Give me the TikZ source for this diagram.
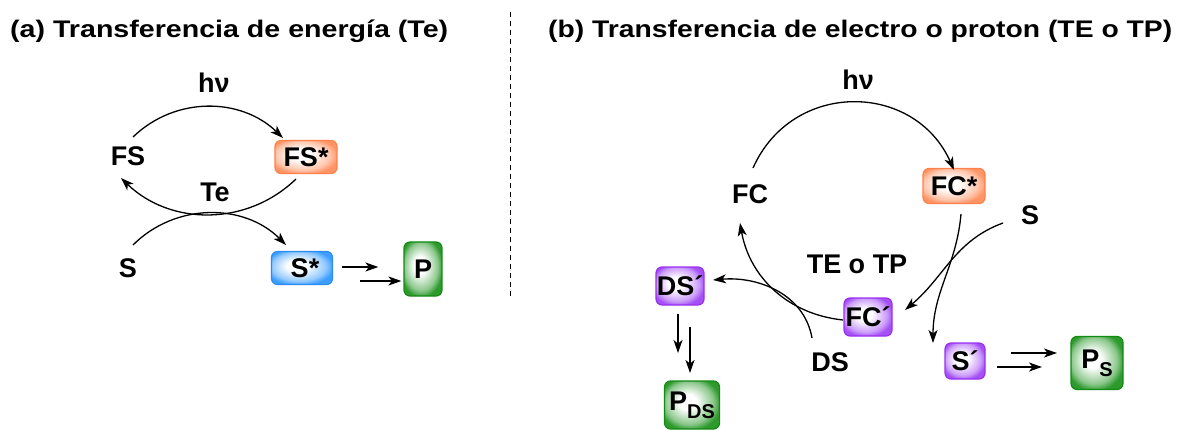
\documentclass[tikz,border=0pt]{standalone}
\usepackage{fontspec}
\setmainfont{Liberation Sans}
\usepackage{graphicx}
\usetikzlibrary{arrows.meta}
\definecolor{orgD}{HTML}{FF8048}
\definecolor{orgL}{HTML}{FF9566}
\definecolor{bluD}{HTML}{2B8CF0}
\definecolor{bluL}{HTML}{3D9EFF}
\definecolor{grnD}{HTML}{138A13}
\definecolor{grnL}{HTML}{2E9A2E}
\definecolor{purD}{HTML}{9A30F0}
\definecolor{purL}{HTML}{A450F5}
\pgfdeclareradialshading{orgsh}{\pgfpoint{-5bp}{4bp}}{color(0bp)=(white); color(8bp)=(white); color(22bp)=(orgL!55!white); color(28bp)=(orgL); color(50bp)=(orgL)}
\pgfdeclareradialshading{blush}{\pgfpoint{-5bp}{4bp}}{color(0bp)=(white); color(8bp)=(white); color(22bp)=(bluL!55!white); color(28bp)=(bluL); color(50bp)=(bluL)}
\pgfdeclareradialshading{grnsh}{\pgfpoint{-5bp}{4bp}}{color(0bp)=(white); color(8bp)=(white); color(22bp)=(grnL!55!white); color(28bp)=(grnL); color(50bp)=(grnL)}
\pgfdeclareradialshading{pursh}{\pgfpoint{-5bp}{4bp}}{color(0bp)=(white); color(8bp)=(white); color(22bp)=(purL!55!white); color(28bp)=(purL); color(50bp)=(purL)}
\newcommand{\subs}[1]{\raisebox{-0.3em}{\fontsize{20}{24}\selectfont #1}}
\begin{document}
\begin{tikzpicture}[x=1pt,y=1pt,
  font=\bfseries\fontsize{27}{32}\selectfont,
  lbl/.style={inner sep=0pt},
  box/.style={rounded corners=6pt,line width=1.2pt,inner sep=0pt},
  orgbox/.style={box,draw=orgD,shading=orgsh},
  blubox/.style={box,draw=bluD,shading=blush},
  grnbox/.style={box,draw=grnD,shading=grnsh},
  purbox/.style={box,draw=purD,shading=pursh},
  arr/.style={line width=1.3pt,-{Stealth[length=13pt,width=9pt,inset=3.5pt]}},
  ttl/.style={anchor=base west,inner sep=0pt,font=\bfseries\fontsize{24}{28}\selectfont}]
\useasboundingbox (0,0) rectangle (1182,-430);
% titles
\node[ttl] (ta) at (10,-38) {\resizebox{438pt}{\height}{(a) Transferencia de energía (Te)}};
\node[ttl] (tb) at (548,-38) {\resizebox{624pt}{\height}{(b) Transferencia de electro o proton (TE o TP)}};
\coordinate (d1) at (510,-12);
\coordinate (d2) at (510,-296);
\draw[line width=0.8pt,dash pattern=on 5pt off 4pt] (d1) -- (d2);
% (a)
\node[lbl] (hva) at (214,-83) {hν};
\node[lbl] (FS) at (128,-156) {FS};
\node[orgbox,minimum width=62pt,minimum height=33pt] (FSs) at (306,-157) {FS*};
\node[lbl] (Te) at (215,-192) {Te};
\node[lbl] (S) at (128,-268) {S};
\node[blubox,minimum width=61pt,minimum height=33pt] (Ss) at (302,-268) {\hspace*{6pt}S*};
\node[grnbox,minimum width=38pt,minimum height=54pt] (P) at (423,-269) {P};
\draw[arr] ([shift={(5,19)}]FS.center) to[out=44,in=136] ([shift={(-23,19)}]FSs.center);
\draw[arr] ([shift={(-10,-22)}]FSs.center) to[out=224,in=316] ([shift={(-7,-22)}]FS.center);
\draw[arr] ([shift={(5,23)}]S.center) to[out=45,in=135] ([shift={(-16,23)}]Ss.center);
\draw[arr] ([shift={(9,1)}]Ss.east) -- ([shift={(-25,2)}]P.west);
\draw[arr] ([shift={(27,-13)}]Ss.east) -- ([shift={(-2,-12)}]P.west);
% (b)
\node[lbl] (hvb) at (858,-80) {hν};
\node[lbl] (FC) at (750,-194) {FC};
\node[orgbox,minimum width=62pt,minimum height=35pt] (FCs) at (954,-186) {FC*};
\node[lbl] (Sb) at (1030,-215) {S};
\node[lbl] (TE) at (857,-264) {TE o TP};
\node[purbox,minimum width=48pt,minimum height=38pt] (DSp) at (680,-286) {DS´};
\node[purbox,minimum width=48pt,minimum height=38pt] (FCp) at (868,-317) {FC´};
\node[lbl] (DS) at (830,-362) {DS};
\node[purbox,minimum width=40pt,minimum height=36pt] (Sp) at (965,-361) {S´};
\node[grnbox,minimum width=55pt,minimum height=48pt] (PDS) at (692,-405) {P\subs{DS}};
\node[grnbox,minimum width=52pt,minimum height=53pt] (PS) at (1097,-363) {P\subs{S}};
\draw[arr] ([shift={(3,26)}]FC.center) to[out=66,in=114,looseness=1.23] ([shift={(0,16)}]FCs.center);
\draw[arr] ([shift={(-25,-3)}]FCp.center) to[out=174,in=280] ([shift={(-10,-29)}]FC.center);
\draw[arr] ([shift={(7,-28)}]FCs.center) to[out=265,in=90] ([shift={(-32,18)}]Sp.center);
\draw[arr] ([shift={(-27,-8)}]Sb.center) to[out=200,in=40] ([shift={(37,7)}]FCp.center);
\draw[arr] ([shift={(-18,24)}]DS.center) to[out=100,in=5] ([shift={(33,6)}]DSp.center);
\draw[arr] ([shift={(-2,-28)}]DSp.center) -- ([shift={(-14,52)}]PDS.center);
\draw[arr] ([shift={(10,-41)}]DSp.center) -- ([shift={(-2,32)}]PDS.center);
\draw[arr] ([shift={(46,8)}]Sp.center) -- ([shift={(-40,10)}]PS.center);
\draw[arr] ([shift={(32,-6)}]Sp.center) -- ([shift={(-55,-4)}]PS.center);
\end{tikzpicture}
\end{document}
